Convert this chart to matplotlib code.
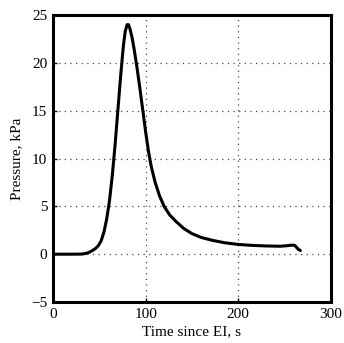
import matplotlib
matplotlib.use("Agg")
import matplotlib.pyplot as plt
import numpy as np

t = [0, 10, 20, 30, 34, 38, 42, 46, 49, 52, 55, 58, 61, 64, 67, 70, 73, 76, 78, 80, 81.5, 83, 85.5, 88, 91, 94, 97, 100, 103, 106, 110, 115, 120, 126, 133, 141, 150, 160, 172, 185, 200, 215, 230, 245, 252, 258, 261, 263, 265, 267]
p = [0, 0, 0, 0.01, 0.05, 0.15, 0.35, 0.6, 0.9, 1.4, 2.3, 3.7, 5.6, 8.2, 11.4, 15.0, 18.6, 21.8, 23.3, 24.0, 24.0, 23.6, 22.6, 21.2, 19.3, 17.2, 15.0, 12.8, 10.8, 9.2, 7.6, 6.1, 5.0, 4.1, 3.4, 2.7, 2.15, 1.75, 1.45, 1.2, 1.02, 0.92, 0.86, 0.83, 0.88, 0.95, 0.92, 0.7, 0.5, 0.38]

xticks = [0, 100, 200, 300]
yticks = [-5, 0, 5, 10, 15, 20, 25]

plt.rcParams['font.family'] = ['Liberation Serif', 'DejaVu Serif']
fig = plt.figure(figsize=(3.44, 3.43), dpi=100)
ax = fig.add_axes([0.154, 0.1195, 0.808, 0.8365])
ax.plot(t, p, color='black', lw=2.2, solid_capstyle='round', solid_joinstyle='round')
ax.set_xlim(0, 300)
ax.set_ylim(-5, 25)
ax.set_xticks(xticks)
ax.set_yticks(yticks)
ax.grid(True, linestyle=(0, (1, 3.5)), color='#444444', lw=0.9)
for s in ax.spines.values():
    s.set_linewidth(2.2)
ax.tick_params(direction='in', length=3, width=1, labelsize=11, pad=4)
ax.set_xlabel('Time since EI, s', fontsize=11, labelpad=3)
ax.set_ylabel('Pressure, kPa', fontsize=11, labelpad=6)
fig.savefig('out.png', dpi=100)
